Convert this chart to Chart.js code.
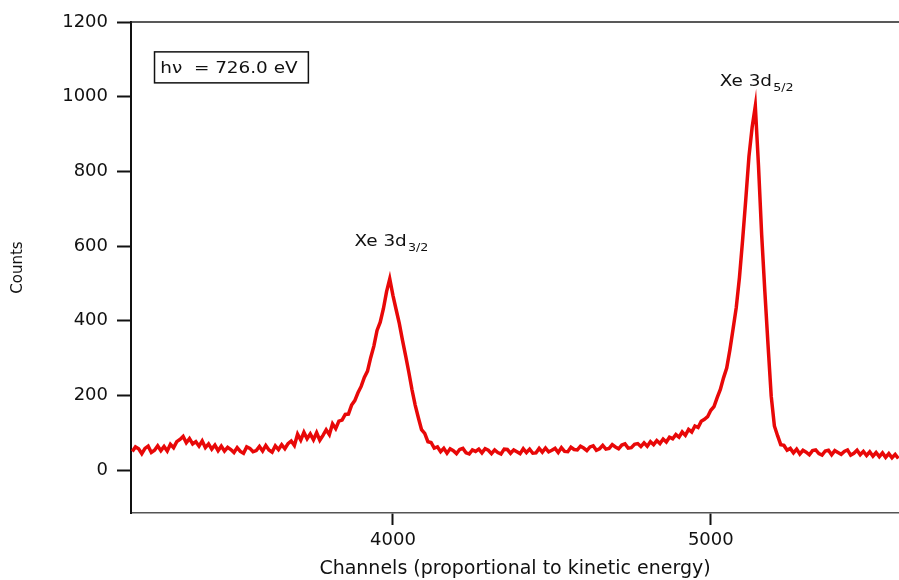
<!DOCTYPE html>
<html>
<head>
<meta charset="utf-8">
<script src="https://cdn.jsdelivr.net/npm/chart.js@4.4.1/dist/chart.umd.min.js"></script>
<style>
  html, body { margin: 0; padding: 0; background: #fff; }
  #wrap { width: 899px; height: 580px; position: relative; }
</style>
</head>
<body>
<div id="wrap"><canvas id="c" width="899" height="580"></canvas></div>
<script>
// ---- data ----
const channels = [
  3180,3190,3200,3210,3220,3230,3240,3250,3260,3270,
  3280,3290,3300,3310,3320,3330,3340,3350,3360,3370,
  3380,3390,3400,3410,3420,3430,3440,3450,3460,3470,
  3480,3490,3500,3510,3520,3530,3540,3550,3560,3570,
  3580,3590,3600,3610,3620,3630,3640,3650,3660,3670,
  3680,3690,3700,3710,3720,3730,3740,3750,3760,3770,
  3780,3790,3800,3810,3820,3830,3840,3850,3860,3870,
  3880,3890,3900,3910,3920,3930,3940,3950,3960,3970,
  3980,3990,4000,4010,4020,4030,4040,4050,4060,4070,
  4080,4090,4100,4110,4120,4130,4140,4150,4160,4170,
  4180,4190,4200,4210,4220,4230,4240,4250,4260,4270,
  4280,4290,4300,4310,4320,4330,4340,4350,4360,4370,
  4380,4390,4400,4410,4420,4430,4440,4450,4460,4470,
  4480,4490,4500,4510,4520,4530,4540,4550,4560,4570,
  4580,4590,4600,4610,4620,4630,4640,4650,4660,4670,
  4680,4690,4700,4710,4720,4730,4740,4750,4760,4770,
  4780,4790,4800,4810,4820,4830,4840,4850,4860,4870,
  4880,4890,4900,4910,4920,4930,4940,4950,4960,4970,
  4980,4990,5000,5010,5020,5030,5040,5050,5060,5070,
  5080,5090,5100,5110,5120,5130,5140,5150,5160,5170,
  5180,5190,5200,5210,5220,5230,5240,5250,5260,5270,
  5280,5290,5300,5310,5320,5330,5340,5350,5360,5370,
  5380,5390,5400,5410,5420,5430,5440,5450,5460,5470,
  5480,5490,5500,5510,5520,5530,5540,5550,5560,5570,
  5580,5590
];
const counts = [
  50, 62, 57, 44, 58, 64, 47, 53, 65, 52,
  63, 51, 69, 60, 76, 82, 90, 73, 84, 70,
  76, 64, 78, 60, 70, 56, 67, 52, 64, 51,
  61, 55, 47, 60, 50, 45, 62, 58, 49, 52,
  63, 51, 66, 54, 48, 65, 55, 68, 57, 71,
  78, 66, 96, 80, 101, 84, 97, 81, 100, 80,
  93, 108, 95, 124, 111, 131, 134, 149, 150, 174,
  186, 207, 224, 248, 265, 301, 332, 374, 396, 432,
  478, 512, 468, 430, 393, 348, 306, 262, 215, 174,
  140, 108, 98, 76, 74, 59, 62, 49, 58, 45,
  57, 52, 44, 55, 58, 46, 43, 54, 50, 56,
  46, 57, 53, 44, 54, 47, 43, 56, 55, 45,
  54, 49, 44, 57, 47, 56, 45, 46, 58, 48,
  59, 49, 53, 58, 47, 60, 50, 49, 61, 55,
  54, 64, 59, 52, 62, 65, 53, 57, 66, 56,
  58, 68, 62, 57, 67, 70, 59, 60, 69, 71,
  63, 73, 64, 76, 68, 79, 71, 83, 75, 88,
  84, 95, 88, 102, 93, 109, 102, 118, 114, 131,
  136, 143, 160, 170, 194, 216, 247, 273, 322, 378,
  435, 515, 616, 725, 840, 918, 975, 815, 630, 478,
  335, 198, 118, 92, 68, 66, 53, 58, 46, 56,
  43, 53, 48, 41, 52, 54, 44, 40, 51, 53,
  41, 52, 47, 42, 50, 54, 40, 45, 53, 41,
  50, 39, 49, 37, 47, 36, 46, 34, 44, 33,
  42, 31
];
const xTicks = [4000, 5000];
const yTicks = [0, 200, 400, 600, 800, 1000, 1200];
const xLabel = 'Channels (proportional to kinetic energy)';
const yLabel = 'Counts';
const boxText = 'h\u03BD  = 726.0 eV';
const peakLabels = [
  { main: 'Xe 3d', sub: '3/2', ch: 3879, val: 611 },
  { main: 'Xe 3d', sub: '5/2', ch: 5028, val: 1040 }
];

const FONT = '"DejaVu Sans", sans-serif';

const annotPlugin = {
  id: 'annot',
  afterDraw(chart) {
    const { ctx, chartArea, scales: { x, y } } = chart;
    ctx.save();
    // top frame line
    ctx.strokeStyle = '#222';
    ctx.lineWidth = 1.5;
    ctx.beginPath();
    ctx.moveTo(chartArea.left, chartArea.top);
    ctx.lineTo(chartArea.right, chartArea.top);
    ctx.stroke();

    // info box
    const bx0 = x.getPixelForValue(3250), bx1 = x.getPixelForValue(3734);
    const by0 = y.getPixelForValue(1120), by1 = y.getPixelForValue(1037);
    ctx.fillStyle = '#fff';
    ctx.fillRect(bx0, by0, bx1 - bx0, by1 - by0);
    ctx.strokeStyle = '#111';
    ctx.lineWidth = 1.5;
    ctx.strokeRect(bx0, by0, bx1 - bx0, by1 - by0);
    ctx.fillStyle = '#111';
    ctx.textBaseline = 'middle';
    ctx.textAlign = 'left';
    ctx.save();
    ctx.translate(x.getPixelForValue(3268), (by0 + by1) / 2 + 1);
    ctx.scale(1.15, 1);
    ctx.font = '16px ' + FONT;
    ctx.fillText(boxText, 0, 0);
    ctx.restore();

    // peak labels
    peakLabels.forEach(p => {
      ctx.save();
      ctx.translate(x.getPixelForValue(p.ch), y.getPixelForValue(p.val));
      ctx.scale(1.15, 1);
      ctx.font = '16px ' + FONT;
      ctx.textBaseline = 'middle';
      ctx.fillText(p.main, 0, 0);
      const w = ctx.measureText(p.main).width;
      ctx.font = '11px ' + FONT;
      ctx.fillText(p.sub, w + 1, 6);
      ctx.restore();
    });
    ctx.restore();
  }
};

new Chart(document.getElementById('c'), {
  type: 'line',
  data: {
    datasets: [{
      data: channels.map((c, i) => ({ x: c, y: counts[i] })),
      borderColor: 'rgb(232,8,8)',
      borderWidth: 3.5,
      pointRadius: 0,
      tension: 0,
      fill: false
    }]
  },
  options: {
    responsive: false,
    animation: false,
    devicePixelRatio: 1,
    layout: { padding: { top: 22, right: 0, left: 0, bottom: 0 } },
    plugins: { legend: { display: false }, tooltip: { enabled: false } },
    scales: {
      x: {
        type: 'linear',
        min: 3176,
        max: 5592,
        afterBuildTicks: s => { s.ticks = xTicks.map(v => ({ value: v })); },
        afterFit: s => { s.height = 67; },
        border: { display: true, color: '#555', width: 1.5 },
        grid: { drawOnChartArea: false, drawTicks: true, tickLength: 12, tickColor: '#111', tickWidth: 2 },
        ticks: { color: '#111', font: { family: FONT, size: 18 }, padding: 5, maxRotation: 0, autoSkip: false,
                 callback: v => String(v) },
        title: { display: true, text: xLabel, color: '#111', font: { family: FONT, size: 19 }, padding: { top: 0, bottom: 0 } }
      },
      y: {
        type: 'linear',
        min: -115,
        max: 1200,
        afterBuildTicks: s => { s.ticks = yTicks.map(v => ({ value: v })); },
        afterFit: s => { s.width = 131; },
        border: { display: true, color: '#111', width: 2 },
        grid: { drawOnChartArea: false, drawTicks: true, tickLength: 14, tickColor: '#111', tickWidth: 2 },
        ticks: { color: '#111', font: { family: FONT, size: 18 }, padding: 9, callback: v => String(v) },
        title: { display: true, text: yLabel, color: '#111', font: { family: FONT, size: 15 }, padding: { top: 9, bottom: 0 } }
      }
    }
  },
  plugins: [annotPlugin]
});
</script>
</body>
</html>
